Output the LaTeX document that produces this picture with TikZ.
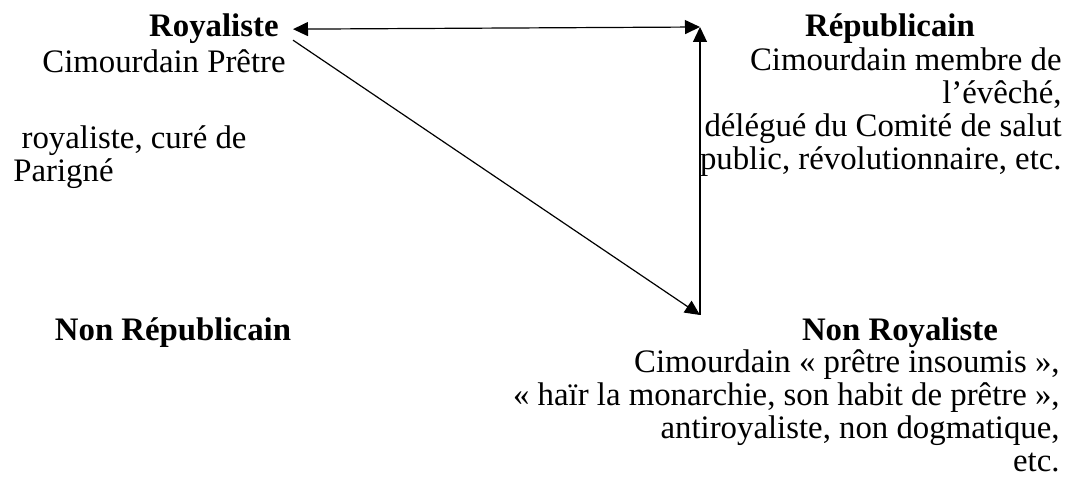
\documentclass[tikz,border=0pt]{standalone}
\usepackage{fontspec}
\setmainfont{Liberation Serif}
\usetikzlibrary{arrows.meta}

\begin{document}
\begin{tikzpicture}[x=0.5pt, y=-0.5pt,
                title/.style={font=\fontsize{16.4}{16.5}\selectfont\bfseries, inner sep=0pt},
                body/.style={font=\fontsize{16.4}{16.5}\selectfont, inner sep=0pt},
                arrow/.style={-{Triangle[length=7.5pt, width=7pt]}, line width=0.6pt},
                both/.style={{Triangle[length=7.5pt, width=7pt]}-{Triangle[length=7.5pt, width=7pt]}, line width=0.6pt}
            ]
                \useasboundingbox (0,0) rectangle (1073,491);

                % the four corners (base = last line of a block)
                \node[title, inner xsep=7pt, anchor=base east] (roy) at (293,37) {Royaliste};
                \node[body, anchor=base east] (roytxt) at (286,73) {Cimourdain Prêtre};
                \node[body, align=left, anchor=base west] (roytxt2) at (13,182) {\ royaliste, curé de\\Parigné};

                \node[title, anchor=base] (rep) at (890,37) {Républicain};
                \node[body, align=right, anchor=base east] (reptxt) at (1062,170)
                    {Cimourdain membre de\\l’évêché,\\délégué du Comité de salut\\public, révolutionnaire, etc.};

                \node[title, anchor=base] (nrep) at (173,341) {Non Républicain};

                \node[title, anchor=base] (nroy) at (900,341) {Non Royaliste};
                \node[body, align=right, anchor=base east] (nroytxt) at (1060,472)
                    {Cimourdain « prêtre insoumis »,\\« haïr la monarchie, son habit de prêtre »,\\antiroyaliste, non dogmatique,\\etc.};

                \coordinate (tr) at (700,27);
                \coordinate (br) at (700,315);

                \draw[both] (roy.east) -- (tr);
                \draw[arrow] ([yshift=-5.5pt]roy.east) -- (br);
                \draw[arrow] (br) -- (tr);
            \end{tikzpicture}
\end{document}
